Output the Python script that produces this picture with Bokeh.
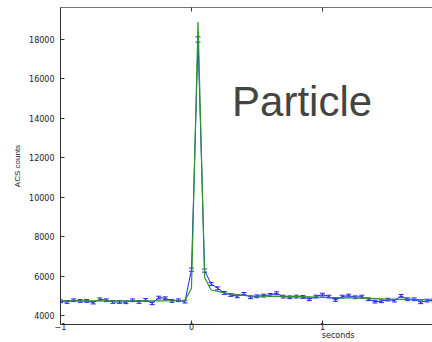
import numpy as np
from bokeh.plotting import figure
from bokeh.models import (ColumnDataSource, Whisker, TeeHead, Label, LinearAxis,
                          FixedTicker, Range1d)
from bokeh.embed import file_html
from bokeh.resources import INLINE

# time bins (s)
t = [round(-1.0 + 0.05 * i, 2) for i in range(58)]

# measured counts (blue, with error bars)
counts = [4727, 4693, 4778, 4744, 4744, 4660, 4829, 4778, 4693, 4693,
          4676, 4778, 4693, 4795, 4626, 4913, 4880, 4744, 4778, 4710,
          6330, 18000, 6283, 5608, 5386, 5150, 5048, 4980, 5100, 4930,
          4980, 5014, 5048, 5133, 4963, 4930, 4963, 4946, 4830, 4964,
          5065, 4964, 4795, 4964, 5015, 4930, 4964, 4829, 4710, 4727,
          4812, 4761, 4998, 4829, 4829, 4676, 4761, 4780]
errors = [69, 69, 69, 69, 69, 68, 69, 69, 69, 69,
          68, 69, 69, 69, 68, 70, 70, 69, 69, 69,
          80, 134, 79, 75, 73, 72, 71, 71, 71, 70,
          71, 71, 71, 72, 70, 70, 70, 70, 70, 70,
          71, 70, 69, 70, 71, 70, 70, 69, 69, 69,
          69, 69, 71, 69, 69, 68, 69, 69]

# model curve (green)
model = [4745, 4745, 4746, 4746, 4747, 4747, 4748, 4748, 4748, 4749,
         4749, 4750, 4750, 4751, 4751, 4752, 4752, 4753, 4753, 4754,
         5390, 18880, 5930, 5300, 5230, 5150, 5100, 5050, 5020, 5005,
         4995, 4990, 4985, 4980, 4975, 4970, 4965, 4960, 4950, 4940,
         4930, 4920, 4910, 4900, 4895, 4890, 4880, 4870, 4860, 4850,
         4840, 4830, 4825, 4820, 4815, 4810, 4805, 4800]

x_ticks = [-1, 0, 1]
y_ticks = [4000, 6000, 8000, 10000, 12000, 14000, 16000, 18000]
x_title = "seconds"
x_title_pos = 1.12

src = ColumnDataSource(dict(
    t=t, c=counts,
    lo=[c - e for c, e in zip(counts, errors)],
    hi=[c + e for c, e in zip(counts, errors)],
    m=model))

p = figure(width=432, height=342, output_backend="svg", toolbar_location=None,
           x_range=Range1d(-1.0, 1.84), y_range=Range1d(3550, 19620),
           min_border_left=60, min_border_right=0, min_border_top=7,
           min_border_bottom=0, background_fill_color="white",
           border_fill_color="white")
p.outline_line_color = None
p.grid.visible = False

axis_col = "#333333"
for ax in (p.xaxis[0], p.yaxis[0]):
    ax.axis_line_color = axis_col
    ax.major_tick_line_color = axis_col
    ax.major_tick_in = 4
    ax.major_tick_out = 0
    ax.minor_tick_line_color = None
    ax.major_label_text_font = "DejaVu Sans"
    ax.major_label_text_font_size = "8px"
    ax.major_label_text_color = "#222222"

p.xaxis.ticker = FixedTicker(ticks=x_ticks)
p.yaxis.ticker = FixedTicker(ticks=y_ticks)
p.xaxis.major_label_overrides = {-1: "\u22121"}
p.xaxis.major_label_standoff = -2
p.yaxis.major_label_standoff = 6
p.yaxis.axis_label = "ACS counts"
p.yaxis.axis_label_text_font = "Liberation Sans"
p.yaxis.axis_label_text_font_size = "8px"
p.yaxis.axis_label_text_font_style = "normal"
p.yaxis.axis_label_text_color = "#222222"
p.yaxis.axis_label_standoff = 4

top = LinearAxis(ticker=FixedTicker(ticks=x_ticks),
                 major_label_overrides={-1: "", 0: "", 1: ""},
                 major_label_text_font_size="1px",
                 axis_line_color="#777777", major_tick_line_color=axis_col,
                 major_tick_in=4, major_tick_out=0, minor_tick_line_color=None,
                 major_label_standoff=0)
p.add_layout(top, "above")

# x-axis title, placed off-centre as in the source image
title_axis = LinearAxis(ticker=FixedTicker(ticks=[x_title_pos]),
                        major_label_overrides={x_title_pos: x_title},
                        major_label_text_font="DejaVu Sans",
                        major_label_text_font_size="8px",
                        major_label_text_color="#222222",
                        axis_line_color=None, major_tick_line_color=None,
                        minor_tick_line_color=None, major_tick_in=0,
                        major_tick_out=0, major_label_standoff=-2)
p.add_layout(title_axis, "below")

# error bars and data line
p.line("t", "c", source=src, line_color="#2222ee", line_width=1)
wh = Whisker(base="t", lower="lo", upper="hi", source=src, dimension="height",
             line_color="#2222ee", line_width=1,
             lower_head=TeeHead(size=5, line_color="#2222ee", line_width=1),
             upper_head=TeeHead(size=5, line_color="#2222ee", line_width=1))
p.add_layout(wh)
p.line("t", "m", source=src, line_color="#2a962a", line_width=1.2)

p.add_layout(Label(x=0.31, y=14860, text="Particle", text_font="Liberation Sans",
                   text_font_size="42px", text_color="#444444",
                   text_baseline="alphabetic"))

open("out.html", "w").write(file_html(p, INLINE))
